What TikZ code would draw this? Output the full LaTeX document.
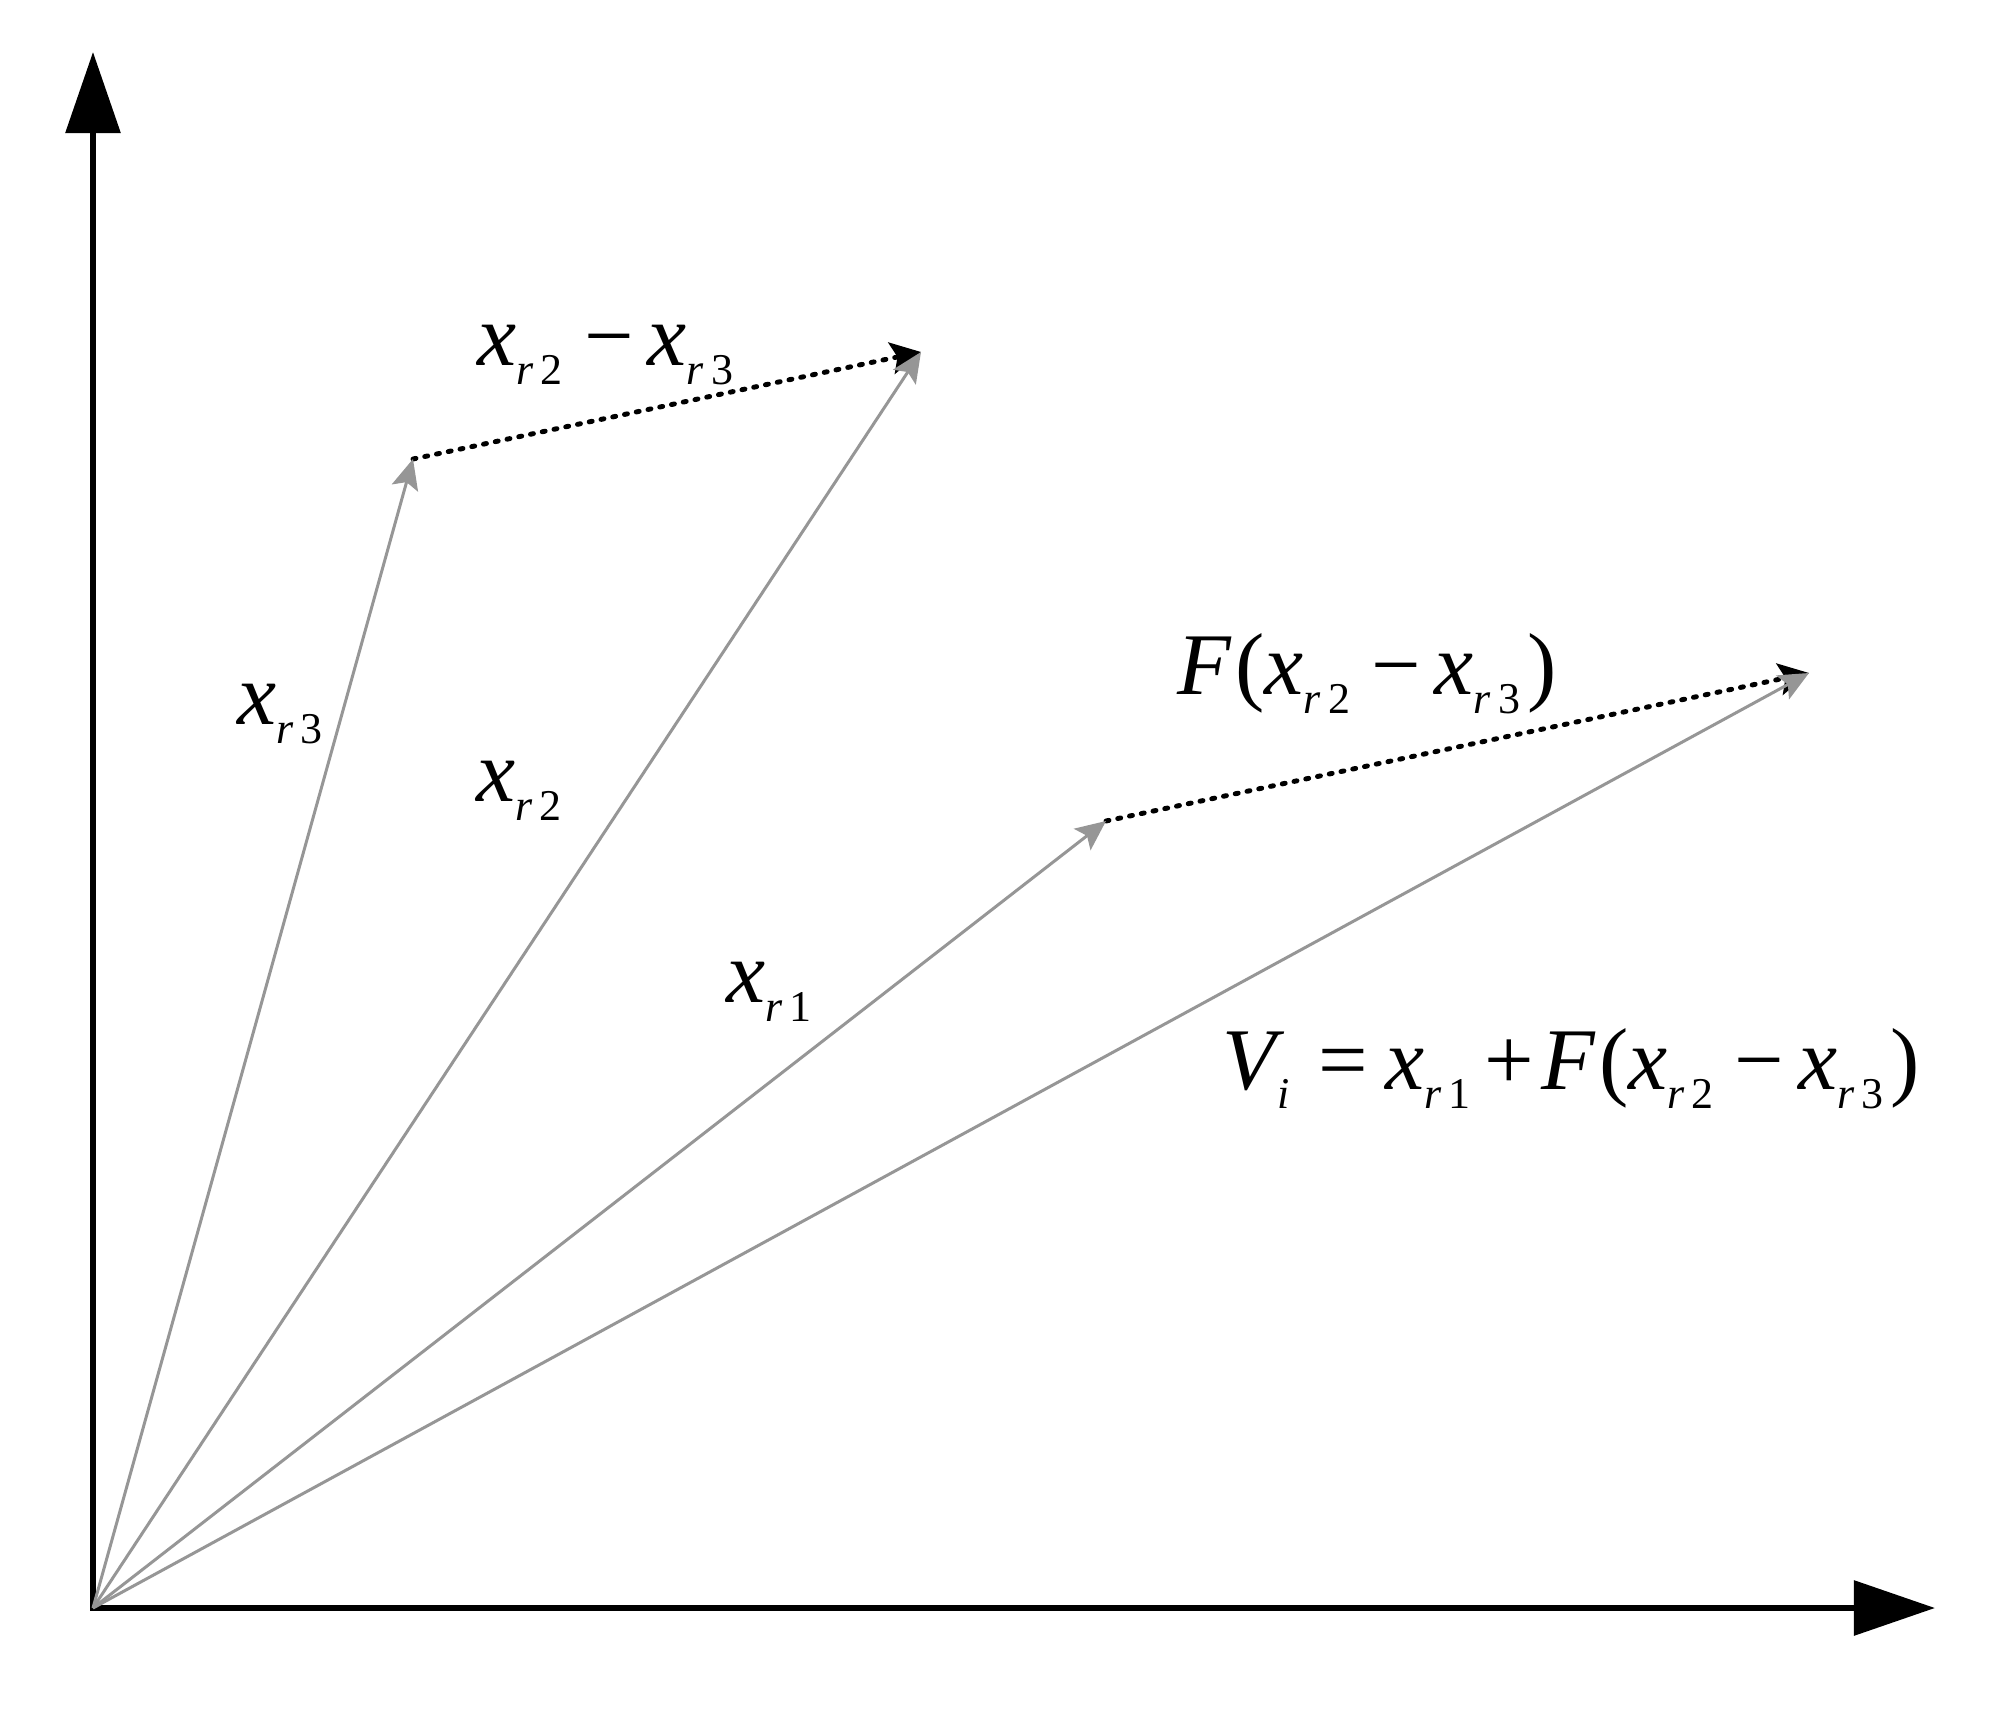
\documentclass[tikz,border=0pt]{standalone}
\usepackage{fontspec}
\setmainfont{LiberationSerif}[Extension=.ttf, UprightFont=*-Regular, ItalicFont=*-Italic, BoldFont=*-Bold]
\usetikzlibrary{arrows.meta}

\definecolor{vecgray}{RGB}{150,150,150}
\newcommand{\subtext}[1]{\raisebox{-0.19cm}{\fontsize{12.5}{14}\selectfont #1}}
\newcommand{\xr}[1]{\textit{x}\subtext{\textit{r}\hspace{2pt}#1}}
\newcommand{\mins}{\hspace{6pt}−\hspace{4pt}}

\begin{document}
\begin{tikzpicture}[x=0.01cm, y=-0.01cm,
    every node/.style={font=\fontsize{25}{28}\selectfont, inner sep=0pt, anchor=base west},
    axis/.style={line width=1.7pt, line cap=rect, -{Triangle[length=0.81cm, width=0.54cm]}},
    vec/.style={draw=vecgray, line width=0.85pt, -{Stealth[length=0.3cm, width=0.27cm, inset=0.06cm]}},
    diff/.style={line width=1.4pt, line cap=round, dash pattern=on 0.03cm off 0.09cm, -{Stealth[length=0.3cm, width=0.32cm, inset=0.06cm]}}]
                \useasboundingbox (0, 0) rectangle (2011, 1712);
                \coordinate (O) at (93, 1608);
                \coordinate (xend) at (1935, 1608);
                \coordinate (yend) at (93, 52);
                \coordinate (Xr3) at (413, 459);
                \coordinate (Xr2) at (921, 352);
                \coordinate (Xr1) at (1106, 821);
                \coordinate (Vi) at (1809, 673);
                \draw[axis] (O) -- (xend);
                \draw[axis] (O) -- (yend);
                \draw[diff] (Xr3) -- (Xr2);
                \draw[diff] (Xr1) -- (Vi);
                \foreach \u / \v in {O/Xr3, O/Xr2, O/Xr1, O/Vi}
                    \draw[vec] (\u) -- (\v);
                \node (Ldiff) at (477, 365) {\xr{2}\mins\xr{3}};
                \node (LF) at (1177, 694) {\textit{F}\hspace{1pt}(\xr{2}\mins\xr{3}\hspace{2pt})};
                \node (Lr3) at (237, 724) {\xr{3}};
                \node (Lr2) at (476, 801) {\xr{2}};
                \node (Lr1) at (726, 1002) {\xr{1}};
                \node (LVi) at (1222, 1089) {\textit{V}\hspace{-2pt}\subtext{\textit{i}}\hspace{8pt}=\hspace{5pt}\xr{1}\hspace{4pt}+\hspace{2pt}\textit{F}\hspace{1pt}(\xr{2}\mins\xr{3}\hspace{2pt})};
\end{tikzpicture}
\end{document}
